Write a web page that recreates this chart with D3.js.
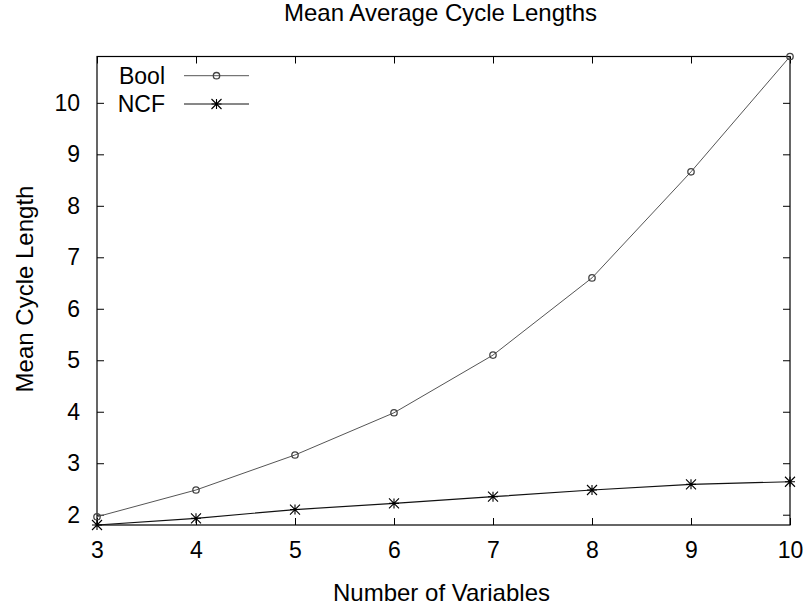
<!DOCTYPE html>
<html>
<head>
<meta charset="utf-8">
<script src="https://cdn.jsdelivr.net/npm/d3@7"></script>
<style>
  body { margin: 0; background: #fff; }
  svg text { font-family: "Liberation Sans", Arial, sans-serif; fill: #000; }
</style>
</head>
<body>
<div class="chart"></div>
<script>
// Mean average cycle lengths, gnuplot style

var variables = [3, 4, 5, 6, 7, 8, 9, 10]
var boolValues = [1.96, 2.48, 3.16, 3.98, 5.10, 6.60, 8.66, 10.90]
var ncfValues = [1.80, 1.93, 2.10, 2.22, 2.35, 2.48, 2.59, 2.64]
var xTicks = [3, 4, 5, 6, 7, 8, 9, 10]
var yTicks = [2, 3, 4, 5, 6, 7, 8, 9, 10]

var W = 804, H = 611
var margin = { top: 56.5, right: 14, bottom: 86, left: 97 }
var width = W - margin.left - margin.right
var height = H - margin.top - margin.bottom

var svg = d3.select('.chart')
  .append('svg')
  .attr('width', W)
  .attr('height', H)

var g = svg.append('g')
  .attr('transform', 'translate(' + margin.left + ',' + margin.top + ')')

var xScale = d3.scaleLinear()
  .domain([3, 10])
  .range([0, width])

var yScale = d3.scaleLinear()
  .domain([d3.min(ncfValues), d3.max(boolValues)])
  .range([height, 0])

var tickLen = 7

// axes with inward ticks (mirrored on top/right)
var xAxis = d3.axisBottom(xScale).tickValues(xTicks).tickSize(-tickLen).tickPadding(tickLen + 10).tickFormat(d3.format('d'))
var xAxisTop = d3.axisTop(xScale).tickValues(xTicks).tickSize(-tickLen).tickFormat('')
var yAxis = d3.axisLeft(yScale).tickValues(yTicks).tickSize(-tickLen).tickPadding(tickLen + 10).tickFormat(d3.format('d'))
var yAxisRight = d3.axisRight(yScale).tickValues(yTicks).tickSize(-tickLen).tickFormat('')

g.append('g').attr('class', 'axis')
  .attr('transform', 'translate(0,' + height + ')')
  .call(xAxis)
g.append('g').attr('class', 'axis').call(xAxisTop)
g.append('g').attr('class', 'axis').call(yAxis)
g.append('g').attr('class', 'axis')
  .attr('transform', 'translate(' + width + ',0)')
  .call(yAxisRight)

g.selectAll('.axis .domain').remove()
g.selectAll('.axis line').attr('stroke', '#000').attr('stroke-width', 1)
g.selectAll('.axis text')
  .attr('font-size', null)
  .style('font-size', '23px')
  .style('font-family', '"Liberation Sans", Arial, sans-serif')

// frame
g.append('rect')
  .attr('x', 0).attr('y', 0)
  .attr('width', width).attr('height', height)
  .attr('fill', 'none')
  .attr('stroke', '#000')
  .attr('stroke-width', 1.2)

var bool = variables.map((v, i) => ({ x: v, y: boolValues[i] }))
var ncf = variables.map((v, i) => ({ x: v, y: ncfValues[i] }))

var line = d3.line()
  .x(d => xScale(d.x))
  .y(d => yScale(d.y))

g.append('path')
  .datum(bool)
  .attr('d', line)
  .attr('fill', 'none')
  .attr('stroke', '#555')
  .attr('stroke-width', 1)

g.append('path')
  .datum(ncf)
  .attr('d', line)
  .attr('fill', 'none')
  .attr('stroke', '#111')
  .attr('stroke-width', 1.2)

function circleMark(sel, color) {
  sel.append('circle')
    .attr('r', 3.2)
    .attr('fill', 'none')
    .attr('stroke', color)
    .attr('stroke-width', 1.3)
}

function starMark(sel, color) {
  var s = 5
  sel.append('path')
    .attr('d', 'M' + (-s) + ',0H' + s + 'M0,' + (-s) + 'V' + s +
      'M' + (-s) + ',' + (-s) + 'L' + s + ',' + s +
      'M' + (-s) + ',' + s + 'L' + s + ',' + (-s))
    .attr('stroke', color)
    .attr('stroke-width', 1.1)
}

g.selectAll('.bool-pt')
  .data(bool)
  .enter()
  .append('g')
  .attr('class', 'bool-pt')
  .attr('transform', d => 'translate(' + xScale(d.x) + ',' + yScale(d.y) + ')')
  .call(circleMark, '#444')

g.selectAll('.ncf-pt')
  .data(ncf)
  .enter()
  .append('g')
  .attr('class', 'ncf-pt')
  .attr('transform', d => 'translate(' + xScale(d.x) + ',' + yScale(d.y) + ')')
  .call(starMark, '#000')

// legend
var legend = svg.append('g')
var entries = [
  { name: 'Bool', color: '#555', mark: circleMark, y: 75.7 },
  { name: 'NCF', color: '#111', mark: starMark, y: 104 }
]
entries.forEach(e => {
  legend.append('text')
    .attr('x', 165).attr('y', e.y + 8)
    .attr('text-anchor', 'end')
    .style('font-size', '23px')
    .text(e.name)
  legend.append('line')
    .attr('x1', 184).attr('x2', 249)
    .attr('y1', e.y).attr('y2', e.y)
    .attr('stroke', e.color)
    .attr('stroke-width', 1)
  legend.append('g')
    .attr('transform', 'translate(216.5,' + e.y + ')')
    .call(e.mark, e.color === '#555' ? '#444' : '#000')
})

// title and axis labels (centred on the plot area)
var cx = margin.left + width / 2

svg.append('text')
  .attr('x', cx - 3).attr('y', 21)
  .attr('text-anchor', 'middle')
  .style('font-size', '24px')
  .text('Mean Average Cycle Lengths')

svg.append('text')
  .attr('x', cx - 2).attr('y', 601)
  .attr('text-anchor', 'middle')
  .style('font-size', '24px')
  .text('Number of Variables')

svg.append('text')
  .attr('transform', 'translate(33,289) rotate(-90)')
  .attr('text-anchor', 'middle')
  .style('font-size', '24px')
  .text('Mean Cycle Length')
</script>
</body>
</html>
